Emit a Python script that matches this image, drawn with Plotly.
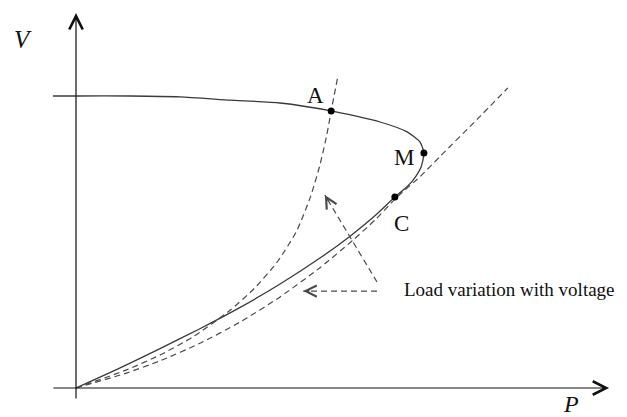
import plotly.graph_objects as go

# PV (nose) curve, per-unit: upper branch then lower branch back to origin
pv_p = [-0.066, 0, 0.154, 0.297, 0.44, 0.583, 0.729, 0.869, 0.946, 0.983, 0.994,
        0.986, 0.963, 0.94, 0.911, 0.854, 0.783, 0.697, 0.583, 0.469, 0.354, 0.24, 0.126, 0]
pv_v = [1.0, 1.0, 1.0, 0.997, 0.986, 0.976, 0.949, 0.911, 0.877, 0.842, 0.805,
        0.757, 0.712, 0.683, 0.654, 0.590, 0.520, 0.445, 0.356, 0.276, 0.203, 0.135, 0.069, 0]

# load characteristic through A (steep)
load_a_p = [0, 0.146, 0.24, 0.334, 0.44, 0.511, 0.577, 0.631, 0.671, 0.697, 0.717, 0.729, 0.749]
load_a_v = [0, 0.063, 0.113, 0.175, 0.266, 0.343, 0.435, 0.539, 0.659, 0.764, 0.870, 0.949, 1.072]

# load characteristic tangent at C
load_c_p = [0, 0.146, 0.24, 0.354, 0.469, 0.583, 0.697, 0.791, 0.854, 0.914, 0.983, 1.04, 1.146, 1.234]
load_c_v = [0, 0.052, 0.093, 0.153, 0.226, 0.312, 0.412, 0.506, 0.575, 0.650, 0.724, 0.793, 0.920, 1.028]

# operating points
pt_names = ["A", "M", "C"]
pt_p = [0.729, 0.994, 0.911]
pt_v = [0.949, 0.805, 0.654]
label_p = [0.683, 0.937, 0.931]
label_v = [1.003, 0.788, 0.565]

# "load variation" pointer arrows (tail -> tip)
up_arrow_p = [0.86, 0.711]
up_arrow_v = [0.363, 0.661]
left_arrow_p = [0.86, 0.649]
left_arrow_v = [0.332, 0.332]

SERIF = "Liberation Serif"
INK = "#111111"
CURVE = "#3a3a3a"
DASH = "#4a4a4a"

fig = go.Figure()

fig.add_trace(go.Scatter(
    x=pv_p, y=pv_v, mode="lines", line=dict(color=CURVE, width=1.3, shape="spline", smoothing=0.6),
    hoverinfo="skip",
))
for xs, ys in [(load_a_p, load_a_v), (load_c_p, load_c_v)]:
    fig.add_trace(go.Scatter(
        x=xs, y=ys, mode="lines",
        line=dict(color=DASH, width=1.2, dash="6px,4px", shape="spline", smoothing=0.6),
        hoverinfo="skip",
    ))
for xs, ys in [(up_arrow_p, up_arrow_v), (left_arrow_p, left_arrow_v)]:
    fig.add_trace(go.Scatter(
        x=xs, y=ys, mode="lines", line=dict(color=DASH, width=1.2, dash="6px,4px"),
        hoverinfo="skip",
    ))

fig.add_trace(go.Scatter(
    x=pt_p, y=pt_v, mode="markers", marker=dict(color="black", size=7),
    hoverinfo="skip",
))

annotations = []
# axes as arrows
annotations.append(dict(x=1.523, y=0, ax=-0.069, ay=0, xref="x", yref="y", axref="x", ayref="y",
                        text="", showarrow=True, arrowhead=5, arrowsize=2.2, arrowwidth=1.2,
                        arrowcolor=INK))
annotations.append(dict(x=0, y=1.284, ax=0, ay=-0.041, xref="x", yref="y", axref="x", ayref="y",
                        text="", showarrow=True, arrowhead=5, arrowsize=2.2, arrowwidth=1.2,
                        arrowcolor=INK))
# heads for the dashed pointers
annotations.append(dict(x=up_arrow_p[1], y=up_arrow_v[1], ax=4, ay=7, text="", showarrow=True,
                        arrowhead=5, arrowsize=2, arrowwidth=1.1, arrowcolor=DASH))
annotations.append(dict(x=left_arrow_p[1], y=left_arrow_v[1], ax=8, ay=0, text="", showarrow=True,
                        arrowhead=5, arrowsize=2, arrowwidth=1.1, arrowcolor=DASH))

for name, lx, ly in zip(pt_names, label_p, label_v):
    annotations.append(dict(x=lx, y=ly, text=name, showarrow=False,
                            font=dict(family=SERIF, size=23, color=INK)))

annotations.append(dict(x=0.931, y=0.336, text="Load variation with voltage", showarrow=False,
                        xanchor="left", font=dict(family=SERIF, size=19, color=INK)))
annotations.append(dict(x=-0.151, y=1.192, text="<i>V</i>", showarrow=False,
                        font=dict(family=SERIF, size=25, color=INK)))
annotations.append(dict(x=1.414, y=-0.056, text="<i>P</i>", showarrow=False,
                        font=dict(family=SERIF, size=24, color=INK)))

# the page body has an 8px margin, so the ranges are offset to keep the drawing in place
fig.update_layout(
    width=627, height=417,
    margin=dict(l=0, r=0, t=0, b=0),
    paper_bgcolor="white", plot_bgcolor="white",
    showlegend=False,
    xaxis=dict(range=[-0.1943, 1.5971], visible=False, fixedrange=True),
    yaxis=dict(range=[-0.1267, 1.3014], visible=False, fixedrange=True),
    annotations=annotations,
)

fig.write_html("out.html")
